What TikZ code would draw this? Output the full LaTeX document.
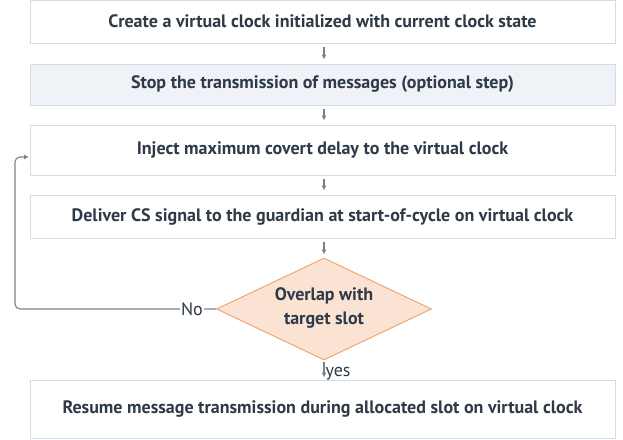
\documentclass[tikz,border=0pt]{standalone}
\usepackage{fontspec}
\setmainfont{PT Sans}
\usetikzlibrary{arrows.meta,shapes.geometric}
\definecolor{txt}{HTML}{2E3A48}
\definecolor{bord}{HTML}{D3DBE4}
\definecolor{greyfill}{HTML}{EFF2F6}
\definecolor{arr}{HTML}{76828F}
\definecolor{peach}{HTML}{FBE3D4}
\definecolor{orng}{HTML}{EFA064}
\tikzset{
  stepbox/.style={draw=bord, line width=0.9pt, fill=white, minimum width=585pt, inner sep=0pt,
    font=\bfseries\fontsize{18}{21}\selectfont, text=txt},
  decide/.style={diamond, draw=orng, line width=0.9pt, fill=peach, minimum width=215pt, minimum height=102pt,
    inner sep=0pt},
  dtext/.style={align=center, font=\bfseries\fontsize{18}{24}\selectfont, text=txt, inner sep=0pt},
  flow/.style={draw=arr, line width=1.1pt, -{Latex[length=5pt,width=5pt]}},
  lbl/.style={font=\fontsize{18}{21}\selectfont, text=txt, inner sep=1pt}
}
\begin{document}
\begin{tikzpicture}[x=1pt,y=-1pt]
\useasboundingbox (0,0) rectangle (623,439);
\node[stepbox, minimum height=43pt] (b1) at (322.5,21.5) {Create a virtual clock initialized with current clock state};
\node[stepbox, minimum height=41pt, fill=greyfill] (b2) at (322.5,84.5) {Stop the transmission of messages (optional step)};
\node[stepbox, minimum height=50pt] (b3) at (322.5,150) {Inject maximum covert delay to the virtual clock};
\node[stepbox, minimum height=43pt] (b4) at (322.5,216.5) {Deliver CS signal to the guardian at start-of-cycle on virtual clock};
\node[decide] (d) at (324,309) {};
\node[dtext] (dt) at ([yshift=1.5pt]d.center) {Overlap with\\target slot};
\node[stepbox, minimum height=58pt] (b5) at (322.5,409) {Resume message transmission during allocated slot on virtual clock};
\coordinate (c1) at (15,309);
\coordinate (c2) at (15,157);
\coordinate (c3) at (29,157);
\draw[flow, shorten <=4pt, shorten >=4pt] (b1.south -| d.north) -- (b2.north -| d.north);
\draw[flow, shorten <=4pt, shorten >=4pt] (b2.south -| d.north) -- (b3.north -| d.north);
\draw[flow, shorten <=4pt, shorten >=4pt] (b3.south -| d.north) -- (b4.north -| d.north);
\draw[flow, shorten <=4pt, shorten >=3pt] (b4.south -| d.north) -- (d.north);
\draw[flow, shorten <=2pt, shorten >=2pt] (d.south) -- (b5.north -| d.south) node[lbl, pos=0.7, right=0pt] {yes};
\draw[flow, rounded corners=5pt] (d.west) -- node[lbl, fill=white, pos=0.12] {No} (c1) -- (c2) -- (c3);
\end{tikzpicture}
\end{document}
